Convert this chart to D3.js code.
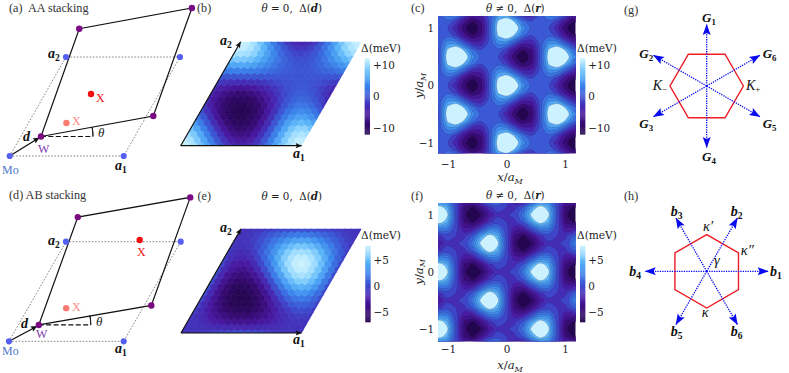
<!DOCTYPE html>
<html><head><meta charset="utf-8">
<script src="https://cdnjs.cloudflare.com/ajax/libs/d3/7.8.5/d3.min.js"></script>
<style>html,body{margin:0;padding:0;background:#fff}svg{display:block}</style>
</head><body><svg id="c" width="789" height="373"></svg>
<script>
// ---------- DATA: Δ(d) on the moiré cell (rows along a2 from 0 to 1, columns along a1 from 0 to 1), meV
const deltaAA = [
[11.7,11.2,9.9,7.8,5.3,2.6,0,-2.1,-3.4,-3.9,-3.4,-2.1,0,2.6,5.3,7.8,9.9,11.2,11.7],
[11.2,10.2,8.3,5.8,2.9,0,-2.6,-4.4,-5.4,-5.4,-4.4,-2.6,0,2.9,5.8,8.3,10.2,11.2,11.2],
[9.9,8.3,6.0,3.1,0,-2.9,-5.3,-6.8,-7.3,-6.8,-5.3,-2.9,0,3.1,6.0,8.3,9.9,10.4,9.9],
[7.8,5.8,3.1,0,-3.1,-5.8,-7.8,-8.9,-8.9,-7.8,-5.8,-3.1,0,3.1,5.8,7.8,8.9,8.9,7.8],
[5.3,2.9,0,-3.1,-6.0,-8.3,-9.9,-10.4,-9.9,-8.3,-6.0,-3.1,0,2.9,5.3,6.8,7.3,6.8,5.3],
[2.6,0,-2.9,-5.8,-8.3,-10.2,-11.2,-11.2,-10.2,-8.3,-5.8,-2.9,0,2.6,4.4,5.4,5.4,4.4,2.6],
[0,-2.6,-5.3,-7.8,-9.9,-11.2,-11.7,-11.2,-9.9,-7.8,-5.3,-2.6,0,2.1,3.4,3.9,3.4,2.1,0],
[-2.1,-4.4,-6.8,-8.9,-10.4,-11.2,-11.2,-10.4,-8.9,-6.8,-4.4,-2.1,0,1.5,2.4,2.4,1.5,0,-2.1],
[-3.4,-5.4,-7.3,-8.9,-9.9,-10.2,-9.9,-8.9,-7.3,-5.4,-3.4,-1.5,0,1.0,1.4,1.0,0,-1.5,-3.4],
[-3.9,-5.4,-6.8,-7.8,-8.3,-8.3,-7.8,-6.8,-5.4,-3.9,-2.4,-1.0,0,0.5,0.5,0,-1.0,-2.4,-3.9],
[-3.4,-4.4,-5.3,-5.8,-6.0,-5.8,-5.3,-4.4,-3.4,-2.4,-1.4,-0.5,0,0.2,0,-0.5,-1.4,-2.4,-3.4],
[-2.1,-2.6,-2.9,-3.1,-3.1,-2.9,-2.6,-2.1,-1.5,-1.0,-0.5,-0.2,0,0,-0.2,-0.5,-1.0,-1.5,-2.1],
[0,0,0,0,0,0,0,0,0,0,0,0,0,0,0,0,0,0,0],
[2.6,2.9,3.1,3.1,2.9,2.6,2.1,1.5,1.0,0.5,0.2,0,0,0.2,0.5,1.0,1.5,2.1,2.6],
[5.3,5.8,6.0,5.8,5.3,4.4,3.4,2.4,1.4,0.5,0,-0.2,0,0.5,1.4,2.4,3.4,4.4,5.3],
[7.8,8.3,8.3,7.8,6.8,5.4,3.9,2.4,1.0,0,-0.5,-0.5,0,1.0,2.4,3.9,5.4,6.8,7.8],
[9.9,10.2,9.9,8.9,7.3,5.4,3.4,1.5,0,-1.0,-1.4,-1.0,0,1.5,3.4,5.4,7.3,8.9,9.9],
[11.2,11.2,10.4,8.9,6.8,4.4,2.1,0,-1.5,-2.4,-2.4,-1.5,0,2.1,4.4,6.8,8.9,10.4,11.2],
[11.7,11.2,9.9,7.8,5.3,2.6,0,-2.1,-3.4,-3.9,-3.4,-2.1,0,2.6,5.3,7.8,9.9,11.2,11.7]];
const deltaAB = [
[-1.0,-1.0,-0.9,-0.7,-0.5,-0.2,0,0.2,0.3,0.3,0.3,0.2,0,-0.2,-0.5,-0.7,-0.9,-1.0,-1.0],
[-1.0,-1.0,-1.1,-1.2,-1.3,-1.4,-1.5,-1.6,-1.6,-1.6,-1.6,-1.5,-1.4,-1.3,-1.2,-1.1,-1.0,-1.0,-1.0],
[-0.9,-1.1,-1.4,-1.8,-2.3,-2.7,-3.1,-3.3,-3.4,-3.3,-3.1,-2.7,-2.3,-1.8,-1.4,-1.1,-0.9,-0.8,-0.9],
[-0.7,-1.2,-1.8,-2.6,-3.4,-4.0,-4.5,-4.8,-4.8,-4.5,-4.0,-3.4,-2.6,-1.8,-1.2,-0.7,-0.4,-0.4,-0.7],
[-0.5,-1.3,-2.3,-3.4,-4.4,-5.2,-5.8,-5.9,-5.8,-5.2,-4.4,-3.4,-2.3,-1.3,-0.5,0.1,0.3,0.1,-0.5],
[-0.2,-1.4,-2.7,-4.0,-5.2,-6.1,-6.5,-6.5,-6.1,-5.2,-4.0,-2.7,-1.4,-0.2,0.7,1.1,1.1,0.7,-0.2],
[0,-1.5,-3.1,-4.5,-5.8,-6.5,-6.8,-6.5,-5.8,-4.5,-3.1,-1.5,0,1.2,2.0,2.3,2.0,1.2,0],
[0.2,-1.6,-3.3,-4.8,-5.9,-6.5,-6.5,-5.9,-4.8,-3.3,-1.6,0.2,1.7,2.8,3.4,3.4,2.8,1.7,0.2],
[0.3,-1.6,-3.4,-4.8,-5.8,-6.1,-5.8,-4.8,-3.4,-1.6,0.3,2.1,3.5,4.5,4.8,4.5,3.5,2.1,0.3],
[0.3,-1.6,-3.3,-4.5,-5.2,-5.2,-4.5,-3.3,-1.6,0.3,2.3,4.0,5.2,5.9,5.9,5.2,4.0,2.3,0.3],
[0.3,-1.6,-3.1,-4.0,-4.4,-4.0,-3.1,-1.6,0.3,2.3,4.1,5.6,6.6,6.9,6.6,5.6,4.1,2.3,0.3],
[0.2,-1.5,-2.7,-3.4,-3.4,-2.7,-1.5,0.2,2.1,4.0,5.6,6.8,7.5,7.5,6.8,5.6,4.0,2.1,0.2],
[0,-1.4,-2.3,-2.6,-2.3,-1.4,0,1.7,3.5,5.2,6.6,7.5,7.8,7.5,6.6,5.2,3.5,1.7,0],
[-0.2,-1.3,-1.8,-1.8,-1.3,-0.2,1.2,2.8,4.5,5.9,6.9,7.5,7.5,6.9,5.9,4.5,2.8,1.2,-0.2],
[-0.5,-1.2,-1.4,-1.2,-0.5,0.7,2.0,3.4,4.8,5.9,6.6,6.8,6.6,5.9,4.8,3.4,2.0,0.7,-0.5],
[-0.7,-1.1,-1.1,-0.7,0.1,1.1,2.3,3.4,4.5,5.2,5.6,5.6,5.2,4.5,3.4,2.3,1.1,0.1,-0.7],
[-0.9,-1.0,-0.9,-0.4,0.3,1.1,2.0,2.8,3.5,4.0,4.1,4.0,3.5,2.8,2.0,1.1,0.3,-0.4,-0.9],
[-1.0,-1.0,-0.8,-0.4,0.1,0.7,1.2,1.7,2.1,2.3,2.3,2.1,1.7,1.2,0.7,0.1,-0.4,-0.8,-1.0],
[-1.0,-1.0,-0.9,-0.7,-0.5,-0.2,0,0.2,0.3,0.3,0.3,0.2,0,-0.2,-0.5,-0.7,-0.9,-1.0,-1.0]];

// Δ(r) sampled on a rectangular grid, top row first (y/aM +1.25 → −1.25, x/aM −1.30 → +1.30), meV
const gridXStep = 0.1443, gridYStep = 0.125;
const realAA = [
[-3.9,0,3.9,3.9,0,-3.9,-3.9,0,3.9,3.9,0,-3.9,-3.9,0,3.9,3.9,0,-3.9,-3.9],
[-0.7,0,0.7,-1.6,-6.4,-9.4,-7.1,0,7.1,9.4,6.4,1.6,-0.7,0,0.7,-1.6,-6.4,-9.4,-7.1],
[0.6,0,-0.6,-3.9,-9,-11.7,-8.4,0,8.4,11.7,9,3.9,0.6,0,-0.6,-3.9,-9,-11.7,-8.4],
[-0.7,0,0.7,-1.6,-6.4,-9.4,-7.1,0,7.1,9.4,6.4,1.6,-0.7,0,0.7,-1.6,-6.4,-9.4,-7.1],
[-3.9,0,3.9,3.9,0,-3.9,-3.9,0,3.9,3.9,0,-3.9,-3.9,0,3.9,3.9,0,-3.9,-3.9],
[-7.1,0,7.1,9.4,6.4,1.6,-0.7,0,0.7,-1.6,-6.4,-9.4,-7.1,0,7.1,9.4,6.4,1.6,-0.7],
[-8.4,0,8.4,11.7,9,3.9,0.6,0,-0.6,-3.9,-9,-11.7,-8.4,0,8.4,11.7,9,3.9,0.6],
[-7.1,0,7.1,9.4,6.4,1.6,-0.7,0,0.7,-1.6,-6.4,-9.4,-7.1,0,7.1,9.4,6.4,1.6,-0.7],
[-3.9,0,3.9,3.9,0,-3.9,-3.9,0,3.9,3.9,0,-3.9,-3.9,0,3.9,3.9,0,-3.9,-3.9],
[-0.7,0,0.7,-1.6,-6.4,-9.4,-7.1,0,7.1,9.4,6.4,1.6,-0.7,0,0.7,-1.6,-6.4,-9.4,-7.1],
[0.6,0,-0.6,-3.9,-9,-11.7,-8.4,0,8.4,11.7,9,3.9,0.6,0,-0.6,-3.9,-9,-11.7,-8.4],
[-0.7,0,0.7,-1.6,-6.4,-9.4,-7.1,0,7.1,9.4,6.4,1.6,-0.7,0,0.7,-1.6,-6.4,-9.4,-7.1],
[-3.9,0,3.9,3.9,0,-3.9,-3.9,0,3.9,3.9,0,-3.9,-3.9,0,3.9,3.9,0,-3.9,-3.9],
[-7.1,0,7.1,9.4,6.4,1.6,-0.7,0,0.7,-1.6,-6.4,-9.4,-7.1,0,7.1,9.4,6.4,1.6,-0.7],
[-8.4,0,8.4,11.7,9,3.9,0.6,0,-0.6,-3.9,-9,-11.7,-8.4,0,8.4,11.7,9,3.9,0.6],
[-7.1,0,7.1,9.4,6.4,1.6,-0.7,0,0.7,-1.6,-6.4,-9.4,-7.1,0,7.1,9.4,6.4,1.6,-0.7],
[-3.9,0,3.9,3.9,0,-3.9,-3.9,0,3.9,3.9,0,-3.9,-3.9,0,3.9,3.9,0,-3.9,-3.9],
[-0.7,0,0.7,-1.6,-6.4,-9.4,-7.1,0,7.1,9.4,6.4,1.6,-0.7,0,0.7,-1.6,-6.4,-9.4,-7.1],
[0.6,0,-0.6,-3.9,-9,-11.7,-8.4,0,8.4,11.7,9,3.9,0.6,0,-0.6,-3.9,-9,-11.7,-8.4],
[-0.7,0,0.7,-1.6,-6.4,-9.4,-7.1,0,7.1,9.4,6.4,1.6,-0.7,0,0.7,-1.6,-6.4,-9.4,-7.1],
[-3.9,0,3.9,3.9,0,-3.9,-3.9,0,3.9,3.9,0,-3.9,-3.9,0,3.9,3.9,0,-3.9,-3.9]];
const realAB = [
[0.3,2.6,2.3,-0.3,-2.6,-2.3,0.3,2.6,2.3,-0.3,-2.6,-2.3,0.3,2.6,2.3,-0.3,-2.6,-2.3,0.3],
[4.3,6.3,4.7,0.1,-4.2,-5.5,-3.6,-1.1,-0.1,-0.8,-1.0,0.9,4.3,6.3,4.7,0.1,-4.2,-5.5,-3.6],
[6.0,7.8,5.7,0.3,-4.8,-6.8,-5.3,-2.6,-1.1,-1.0,-0.4,2.3,6.0,7.8,5.7,0.3,-4.8,-6.8,-5.3],
[4.3,6.3,4.7,0.1,-4.2,-5.5,-3.6,-1.1,-0.1,-0.8,-1.0,0.9,4.3,6.3,4.7,0.1,-4.2,-5.5,-3.6],
[0.3,2.6,2.3,-0.3,-2.6,-2.3,0.3,2.6,2.3,-0.3,-2.6,-2.3,0.3,2.6,2.3,-0.3,-2.6,-2.3,0.3],
[-3.6,-1.1,-0.1,-0.8,-1.0,0.9,4.3,6.3,4.7,0.1,-4.2,-5.5,-3.6,-1.1,-0.1,-0.8,-1.0,0.9,4.3],
[-5.3,-2.6,-1.1,-1.0,-0.4,2.3,6.0,7.8,5.7,0.3,-4.8,-6.8,-5.3,-2.6,-1.1,-1.0,-0.4,2.3,6.0],
[-3.6,-1.1,-0.1,-0.8,-1.0,0.9,4.3,6.3,4.7,0.1,-4.2,-5.5,-3.6,-1.1,-0.1,-0.8,-1.0,0.9,4.3],
[0.3,2.6,2.3,-0.3,-2.6,-2.3,0.3,2.6,2.3,-0.3,-2.6,-2.3,0.3,2.6,2.3,-0.3,-2.6,-2.3,0.3],
[4.3,6.3,4.7,0.1,-4.2,-5.5,-3.6,-1.1,-0.1,-0.8,-1.0,0.9,4.3,6.3,4.7,0.1,-4.2,-5.5,-3.6],
[6.0,7.8,5.7,0.3,-4.8,-6.8,-5.3,-2.6,-1.1,-1.0,-0.4,2.3,6.0,7.8,5.7,0.3,-4.8,-6.8,-5.3],
[4.3,6.3,4.7,0.1,-4.2,-5.5,-3.6,-1.1,-0.1,-0.8,-1.0,0.9,4.3,6.3,4.7,0.1,-4.2,-5.5,-3.6],
[0.3,2.6,2.3,-0.3,-2.6,-2.3,0.3,2.6,2.3,-0.3,-2.6,-2.3,0.3,2.6,2.3,-0.3,-2.6,-2.3,0.3],
[-3.6,-1.1,-0.1,-0.8,-1.0,0.9,4.3,6.3,4.7,0.1,-4.2,-5.5,-3.6,-1.1,-0.1,-0.8,-1.0,0.9,4.3],
[-5.3,-2.6,-1.1,-1.0,-0.4,2.3,6.0,7.8,5.7,0.3,-4.8,-6.8,-5.3,-2.6,-1.1,-1.0,-0.4,2.3,6.0],
[-3.6,-1.1,-0.1,-0.8,-1.0,0.9,4.3,6.3,4.7,0.1,-4.2,-5.5,-3.6,-1.1,-0.1,-0.8,-1.0,0.9,4.3],
[0.3,2.6,2.3,-0.3,-2.6,-2.3,0.3,2.6,2.3,-0.3,-2.6,-2.3,0.3,2.6,2.3,-0.3,-2.6,-2.3,0.3],
[4.3,6.3,4.7,0.1,-4.2,-5.5,-3.6,-1.1,-0.1,-0.8,-1.0,0.9,4.3,6.3,4.7,0.1,-4.2,-5.5,-3.6],
[6.0,7.8,5.7,0.3,-4.8,-6.8,-5.3,-2.6,-1.1,-1.0,-0.4,2.3,6.0,7.8,5.7,0.3,-4.8,-6.8,-5.3],
[4.3,6.3,4.7,0.1,-4.2,-5.5,-3.6,-1.1,-0.1,-0.8,-1.0,0.9,4.3,6.3,4.7,0.1,-4.2,-5.5,-3.6],
[0.3,2.6,2.3,-0.3,-2.6,-2.3,0.3,2.6,2.3,-0.3,-2.6,-2.3,0.3,2.6,2.3,-0.3,-2.6,-2.3,0.3]];

const rangeAA = [-11.9, 11.6], rangeAB = [-6.8, 7.8];
const levelsAA = [-9.6,-7.2,-4.8,-2.6,-0.8,1.2,3.0,4.8,6.8];
const levelsAB = [-5.2,-4.1,-3,-1.9,-0.8,0.6,1.6,2.6,3.6,4.5,5.4];
const cmapStops = [0,0.14,0.3,0.42,0.52,0.66,0.8,0.9,1];
const cmapColors = ["#23064f","#360a70","#4a1aa4","#4238c0","#3b5ad6","#3c88ec","#5cb6f8","#95d8ff","#ccf2ff"];

// lattice sites in units of the Mo cell (a1, a2)
const moSites = [[0,0],[1,0],[1,1],[0,1]];
const wSitesAA = [[0.177,0.197],[1.06,0.404],[0.86,1.495],[-0.025,1.286]];
const wSitesAB = [[0.178,0.164],[1.062,0.36],[0.862,1.445],[-0.02,1.247]];
const xTopAA = [0.404,0.626], xTopAB = [0.634,1.017], xBottom = [0.333,0.333];

const gAngles = [90,150,210,270,330,30], gNames = ["1","2","3","4","5","6"];
const bAngles = [0,60,120,180,240,300], bNames = ["1","2","3","4","5","6"];
const hexAnglesG = [0,60,120,180,240,300], hexAnglesB = [30,90,150,210,270,330];
const axisTicks = [-1,0,1];
const cbTicksAA = [-10,0,10], cbTicksAB = [-5,0,5];

// ---------- helpers
const svg = d3.select("#c");
const SERIF = "'Liberation Serif',serif", DJ = "'DejaVu Serif',serif";
const defs = svg.append("defs");
const cm = d3.scaleLinear().domain(cmapStops).range(cmapColors).interpolate(d3.interpolateRgb).clamp(true);
const colorOf = r => v => cm((v - r[0]) / (r[1] - r[0]));

function rich(x, y, parts, o = {}) {
  const t = svg.append("text").attr("x", x).attr("y", y)
    .attr("font-family", o.font || SERIF).attr("font-size", o.size || 11)
    .attr("fill", o.fill || "#1a1a1a").attr("text-anchor", o.anchor || "start").attr("xml:space","preserve");
  if (o.rotate) t.attr("transform", `rotate(${o.rotate} ${x} ${y})`);
  parts.forEach(p => {
    const s = t.append("tspan").text(p.t);
    if (p.bi) s.attr("font-weight","bold").attr("font-style","italic");
    if (p.i) s.attr("font-style","italic");
    if (p.b) s.attr("font-weight","bold");
    if (p.font) s.attr("font-family",p.font);
    if (p.size) s.attr("font-size",p.size);
    if (p.dy) s.attr("dy",p.dy);
  });
  return t;
}
const vecLabel = (x, y, name, sub, size = 14) => rich(x, y, [
  {t:name, bi:1}, {t:sub, b:1, size:size*0.68, dy:size*0.22}], {size, font:"'Liberation Serif',serif", fill:"#111"});

function arrowHead(g, x, y, deg, len, hw, fill) {
  g.append("path").attr("d", d3.line()([[0,0],[-len,-hw],[-len*0.82,0],[-len,hw]]) + "Z")
    .attr("transform", `translate(${x},${y}) rotate(${deg})`).attr("fill", fill);
}

// ---------- panels (a), (d): real-space lattices
function lattice(o) {
  const g = svg.append("g");
  const sx = d3.scaleLinear().domain([0,1]).range([0,o.a1]);
  const vx = d3.scaleLinear().domain([0,1]).range([0,o.a2[0]]);
  const vy = d3.scaleLinear().domain([0,1]).range([0,o.a2[1]]);
  const P = ([u,v]) => [o.x0 + sx(u) + vx(v), o.y0 + vy(v)];
  const mo = moSites.map(P), w = o.w.map(P);
  g.append("path").attr("d", d3.line()(mo)+"Z").attr("fill","none").attr("stroke","#777")
    .attr("stroke-width",0.9).attr("stroke-dasharray","1.6 1.6");
  g.append("path").attr("d", d3.line()(w)+"Z").attr("fill","none").attr("stroke","#111").attr("stroke-width",1.2);
  const dashEnd = [w[0][0]+o.dash, w[0][1]];
  g.append("line").attr("x1",w[0][0]).attr("y1",w[0][1]).attr("x2",dashEnd[0]).attr("y2",dashEnd[1])
    .attr("stroke","#111").attr("stroke-width",1.2).attr("stroke-dasharray","5 2.4");
  // θ arc
  const arc = d3.arc().innerRadius(o.dash).outerRadius(o.dash).startAngle(Math.PI/2).endAngle(Math.PI/2 - 0.18);
  g.append("path").attr("d",arc()).attr("transform",`translate(${w[0][0]},${w[0][1]})`).attr("fill","none").attr("stroke","#111").attr("stroke-width",0.9);
  // d arrow
  g.append("line").attr("x1",mo[0][0]).attr("y1",mo[0][1]).attr("x2",w[0][0]-3).attr("y2",w[0][1]+2)
    .attr("stroke","#111").attr("stroke-width",1.3);
  const ang = Math.atan2(w[0][1]-mo[0][1], w[0][0]-mo[0][0])*180/Math.PI;
  arrowHead(g, w[0][0]-1.5, w[0][1]+1, ang, 6.5, 3, "#111");
  g.selectAll(".mo").data(mo).join("circle").attr("cx",d=>d[0]).attr("cy",d=>d[1]).attr("r",3.1).attr("fill","#5560f0");
  g.selectAll(".w").data(w).join("circle").attr("cx",d=>d[0]).attr("cy",d=>d[1]).attr("r",3.2).attr("fill","#7a0a82");
  const xt = P(o.xTop), xb = P(xBottom);
  g.append("circle").attr("cx",xt[0]).attr("cy",xt[1]).attr("r",3.2).attr("fill","#f01010");
  g.append("circle").attr("cx",xb[0]).attr("cy",xb[1]).attr("r",3.2).attr("fill","#fb7a72");
}
lattice({x0:9.7,y0:156,a1:114,a2:[56.3,-99],w:wSitesAA,xTop:xTopAA,dash:52});
lattice({x0:9,y0:341.3,a1:114.7,a2:[57,-99.6],w:wSitesAB,xTop:xTopAB,dash:52});

rich(9,12,[{t:"(a)  AA stacking"}],{size:12.2,fill:"#333"});
rich(9,199,[{t:"(d) AB stacking"}],{size:12.2,fill:"#333"});
[[0,0,96,101.7,72,125,98,137,115,170,48,58,23,141,38,152.7,2,173.7],
 [0,0,137,256.3,72,311,96,326,115,353,48,244.7,21,327.7,36,338,2,354.7]].forEach(a=>{
  rich(a[2],a[3],[{t:"X"}],{fill:"#f01010",size:12});
  rich(a[4],a[5],[{t:"X"}],{fill:"#fb8a82",size:12});
  rich(a[6],a[7],[{t:"θ",i:1}],{size:13,fill:"#222"});
  vecLabel(a[8],a[9],"a","1",14);
  vecLabel(a[10],a[11],"a","2",14);
  rich(a[12],a[13],[{t:"d",bi:1}],{size:14,fill:"#111"});
  rich(a[14],a[15],[{t:"W"}],{fill:"#7a3aa8",size:12});
  rich(a[16],a[17],[{t:"Mo"}],{fill:"#4f78c8",size:12});
});

// ---------- panels (b), (e): Δ(d) tile maps
function tileMap(o) {
  const id = "clip"+o.id, N = o.values.length-1;
  const pu = d3.scaleLinear().domain([0,N]).range([0,o.a1]);
  const vx = d3.scaleLinear().domain([0,N]).range([0,o.a2[0]]);
  const vy = d3.scaleLinear().domain([0,N]).range([0,o.a2[1]]);
  const P = (m,n) => [o.x0+pu(m)+vx(n), o.y0+vy(n)];
  const corners = [P(0,0),P(N,0),P(N,N),P(0,N)];
  defs.append("clipPath").attr("id",id).append("path").attr("d",d3.line()(corners)+"Z");
  const col = colorOf(o.range), R = (o.a1/N)/Math.sqrt(3)*1.0;
  const hex = d3.range(6).map(k=>[R*Math.cos((30+60*k)*Math.PI/180),R*Math.sin((30+60*k)*Math.PI/180)]);
  const g = svg.append("g").attr("clip-path",`url(#${id})`);
  const cells = o.values.flatMap((row,n)=>row.map((v,m)=>({m,n,v})));
  g.selectAll("path").data(cells).join("path")
    .attr("d",d3.line()(hex)+"Z")
    .attr("transform",d=>{const p=P(d.m,d.n);return `translate(${p[0]},${p[1]})`;})
    .attr("fill",d=>col(d.v)).attr("stroke",d=>col(d.v)).attr("stroke-width",0.7);
  const a = svg.append("g");
  [[corners[0],corners[1]],[corners[0],corners[3]]].forEach(([s,e])=>{
    a.append("line").attr("x1",s[0]).attr("y1",s[1]).attr("x2",e[0]).attr("y2",e[1]).attr("stroke","#111").attr("stroke-width",1.2);
    arrowHead(a,e[0],e[1],Math.atan2(e[1]-s[1],e[0]-s[0])*180/Math.PI,6,2.6,"#111");
  });
}
tileMap({id:"b",values:deltaAA,range:rangeAA,x0:180.7,y0:145.7,a1:121,a2:[60,-104]});
tileMap({id:"e",values:deltaAB,range:rangeAB,x0:181,y0:333,a1:120.7,a2:[60,-104.3]});
vecLabel(220,45,"a","2",14); vecLabel(293,158,"a","1",14);
vecLabel(220,232,"a","2",14); vecLabel(293,344,"a","1",14);
rich(197,12,[{t:"(b)"}],{size:12.2,fill:"#333"}); rich(197.5,200,[{t:"(e)"}],{size:12.2,fill:"#333"});

function title(cx,y,sym,arg){
  rich(cx,y,[{t:"θ",i:1},{t:" "+sym+" 0,  Δ("},{t:arg,bi:1},{t:")"}],{font:DJ,size:10.3,anchor:"middle",fill:"#222"});
}
title(291.7,12,"=","d"); title(291.7,200,"=","d");
title(515.3,12,"≠","r"); title(515.3,199,"≠","r");

// ---------- colour bars
function colorbar(x,y0,y1,w,range,ticks,tickY,labelX,labelY){
  const s = d3.scaleLinear().domain(range).range([y1,y0]);
  const col = colorOf(range);
  const g = svg.append("g");
  const step = (range[1]-range[0])/80;
  g.selectAll("rect").data(d3.range(range[0],range[1],step)).join("rect")
    .attr("x",x).attr("width",w).attr("y",d=>s(d+step)).attr("height",(y1-y0)/80+0.3).attr("fill",d=>col(d+step/2));
  const ax = g.append("g").attr("transform",`translate(${x+w},0)`)
    .call(d3.axisRight(d3.scaleLinear().domain(tickY.domain).range(tickY.range)).tickValues(ticks).tickSize(0).tickPadding(3)
      .tickFormat(d=>d>0?"+"+d:d<0?"−"+(-d):"0"));
  ax.select(".domain").remove();
  ax.selectAll("text").attr("font-family",DJ).attr("font-size",10.4).attr("fill","#222");
  rich(labelX,labelY,[{t:"Δ(meV)"}],{font:DJ,size:10.6,fill:"#222"});
}
colorbar(364.7,58.3,134.3,5.3,rangeAA,cbTicksAA,{domain:[-10,10],range:[128.3,65]},361,52);
colorbar(580,58.3,134.3,5.3,rangeAA,cbTicksAA,{domain:[-10,10],range:[128.3,65]},577,52);
colorbar(365.3,245.7,322,5.3,rangeAB,cbTicksAB,{domain:[-5,5],range:[312.3,260.3]},361,239);
colorbar(580,245.7,322,5.3,rangeAB,cbTicksAB,{domain:[-5,5],range:[312.3,260.3]},577,239);

// ---------- panels (c), (f): Δ(r) filled contours
function contourMap(o){
  const id="clip"+o.id;
  const xs=d3.scaleLinear().domain([-1,1]).range(o.xr), ys=d3.scaleLinear().domain([-1,1]).range(o.yr);
  const box={x:438,y:o.top,w:137.7,h:o.bottom-o.top};
  defs.append("clipPath").attr("id",id).append("rect").attr("x",box.x).attr("y",box.y).attr("width",box.w).attr("height",box.h);
  const g=svg.append("g").attr("clip-path",`url(#${id})`);
  const col=colorOf(o.range);
  const rows=o.values.length, cols=o.values[0].length;
  const flat=o.values.flat();
  const gx=c=>xs((c-0.5-(cols-1)/2)*gridXStep), gy=r=>ys(((rows-1)/2-(r-0.5))*gridYStep);
  const line=d3.line().x(p=>gx(p[0])).y(p=>gy(p[1])).curve(d3.curveCatmullRomClosed.alpha(0.5));
  g.append("rect").attr("x",box.x).attr("y",box.y).attr("width",box.w).attr("height",box.h).attr("fill",col(o.range[0]));
  const lv=o.levels;
  const bands=d3.contours().size([cols,rows]).thresholds(lv)(flat);
  bands.forEach((b,i)=>{
    const hi = i<lv.length-1 ? (lv[i]+lv[i+1])/2 : o.range[1];
    const d=b.coordinates.map(poly=>poly.map(r=>line(r.slice(0,-1))).join("")).join("");
    g.append("path").attr("d",d).attr("fill",col(hi)).attr("fill-rule","evenodd")
      .attr("stroke","#28285a").attr("stroke-opacity",0.45).attr("stroke-width",0.5);
  });
  const ax=svg.append("g").attr("transform",`translate(0,${o.bottom})`)
    .call(d3.axisBottom(xs).tickValues(axisTicks).tickSize(0).tickPadding(o.xpad).tickFormat(d=>d<0?"−"+(-d):d));
  const ay=svg.append("g").attr("transform",`translate(438,0)`)
    .call(d3.axisLeft(ys).tickValues(axisTicks).tickSize(0).tickPadding(4).tickFormat(d=>d<0?"−"+(-d):d));
  [ax,ay].forEach(a=>{a.select(".domain").remove();a.selectAll("text").attr("font-family",DJ).attr("font-size",10.4).attr("fill","#222");});
  rich(510,o.xlabY,[{t:"x",i:1},{t:"/"},{t:"a",i:1},{t:"M",i:1,size:8,dy:2.5}],{font:DJ,size:11.6,anchor:"middle",fill:"#222"});
  rich(423,ys(0),[{t:"y",i:1},{t:"/"},{t:"a",i:1},{t:"M",i:1,size:8,dy:2.5}],{font:DJ,size:11.6,anchor:"middle",rotate:-90,fill:"#222"});
}
contourMap({id:"c",values:realAA,range:rangeAA,levels:levelsAA,xr:[448,565],yr:[142.7,28.3],top:16,bottom:153.3,xpad:7,xlabY:181});
contourMap({id:"f",values:realAB,range:rangeAB,levels:levelsAB,xr:[448,565],yr:[329,214.7],top:203,bottom:341.3,xpad:4,xlabY:369});
rich(411,12,[{t:"(c)"}],{size:12.2,fill:"#333"}); rich(411,200,[{t:"(f)"}],{size:12.2,fill:"#333"});

// ---------- panels (g), (h): Brillouin zones
function bz(cx,cy,hexA,arrows,R,L){
  const g=svg.append("g");
  const r=d3.scaleLinear().domain([0,1]).range([0,R]), l=d3.scaleLinear().domain([0,1]).range([0,L]);
  const rad=a=>a*Math.PI/180;
  const hexPts=hexA.map(a=>[cx+r(Math.cos(rad(a))),cy-r(Math.sin(rad(a)))]);
  g.append("path").attr("d",d3.line()(hexPts)+"Z").attr("fill","none").attr("stroke","#ee1c25").attr("stroke-width",1.4);
  arrows.forEach(a=>{
    const tip=[cx+l(Math.cos(rad(a))),cy-l(Math.sin(rad(a)))];
    g.append("line").attr("x1",cx).attr("y1",cy).attr("x2",tip[0]).attr("y2",tip[1])
      .attr("stroke","#0a0af0").attr("stroke-width",1.3).attr("stroke-dasharray","1.3 1.1");
    arrowHead(g,tip[0],tip[1],-a,11,4,"#0a0af0");
  });
}
bz(706.7,86,hexAnglesG,gAngles,36.7,62);
bz(706.7,271.3,hexAnglesB,bAngles,36.7,62);
rich(624,14,[{t:"(g)"}],{size:12.2,fill:"#333"}); rich(624,200,[{t:"(h)"}],{size:12.2,fill:"#333"});
[[702,22],[639.3,58],[639.3,128],[702,160.7],[762.7,128],[762.7,58]].forEach((p,i)=>vecLabel(p[0],p[1],"G",gNames[i],13));
rich(652.7,90,[{t:"K",i:1},{t:"−",size:9,dy:2}],{size:14,fill:"#111"});
rich(746,90,[{t:"K",i:1},{t:"+",size:9,dy:2}],{size:14,fill:"#111"});
[[770,276],[730.7,216],[670.7,216.3],[629.3,276],[670.7,335.7],[730.7,335.7]].forEach((p,i)=>vecLabel(p[0],p[1],"b",bNames[i],14));
rich(703,231,[{t:"κ′",i:1}],{size:14.5,fill:"#111"});
rich(740.7,254.7,[{t:"κ″",i:1}],{size:14.5,fill:"#111"});
rich(714,264.7,[{t:"γ",i:1}],{size:14.5,fill:"#111"});
rich(701.7,317,[{t:"κ",i:1}],{size:14.5,fill:"#111"});
</script></body></html>
